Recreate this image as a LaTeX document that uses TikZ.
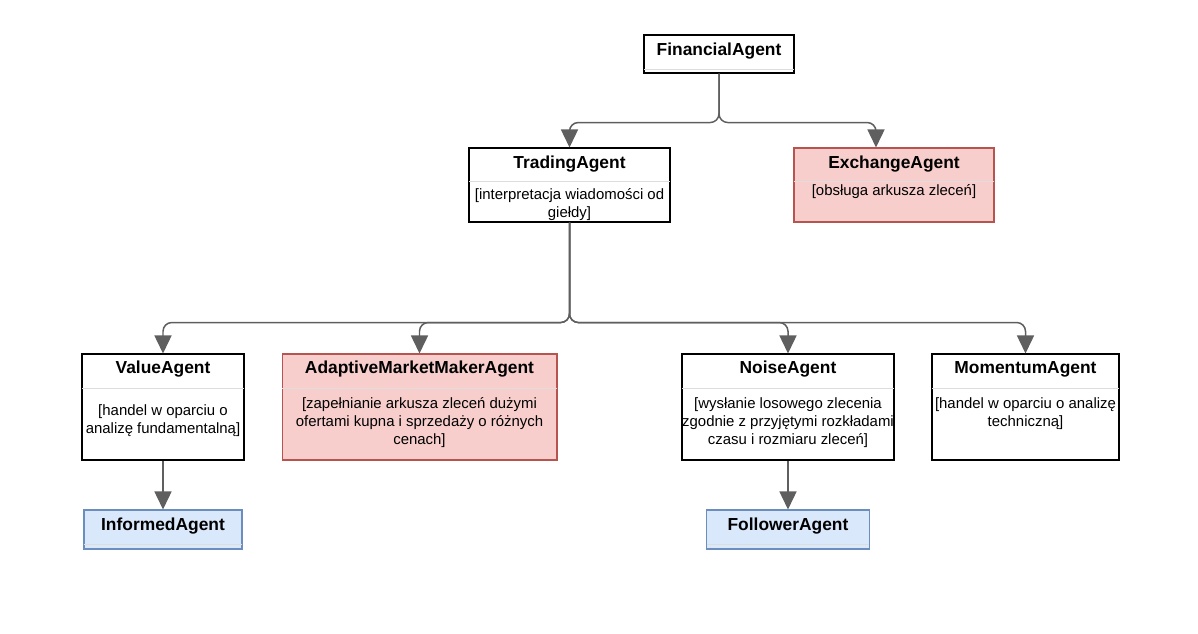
\documentclass[tikz,border=0pt]{standalone}
\usepackage{fontspec}
\setmainfont{Liberation Sans}
\usepackage{xcolor}
\usetikzlibrary{arrows.meta,positioning,calc}

\definecolor{redfill}{HTML}{F8CECC}
\definecolor{redline}{HTML}{B85450}
\definecolor{bluefill}{HTML}{DAE8FC}
\definecolor{blueline}{HTML}{6C8EBF}
\definecolor{edgegray}{HTML}{5F5F5F}
\definecolor{sepgray}{HTML}{DDDDDD}

\begin{document}
\begin{tikzpicture}[
  x=0.02cm, y=-0.02cm,
  box/.style={draw=black, line width=0.6pt, fill=white, inner sep=0pt},
  redbox/.style={box, draw=redline, fill=redfill},
  bluebox/.style={box, draw=blueline, fill=bluefill},
  title/.style={font=\fontsize{9.9}{12}\selectfont\bfseries, anchor=base, inner sep=0pt},
  desc/.style={font=\fontsize{8.5}{10.2}\selectfont, align=center, anchor=base, inner sep=0pt},
  sep/.style={draw=sepgray, line width=0.5pt, shorten <=0.4pt, shorten >=0.4pt},
  arr/.style={-{Triangle[length=0.36cm, width=0.34cm]}, draw=edgegray,
              line width=0.85pt, rounded corners=5pt}
]
  \useasboundingbox (0,0) rectangle (1198,633);

  % top level
  \node[box, minimum width=3cm, minimum height=0.76cm] (fin) at (719,54) {};
  \node[title] (fintitle) at ($(fin.north)+(0,21)$) {FinancialAgent};
  \draw[sep] ($(fin.north west)+(0,35)$) -- ($(fin.north east)+(0,35)$);

  % second level
  \node[box, minimum width=4.02cm, minimum height=1.48cm] (trad) at (569.5,185) {};
  \node[title] (tradtitle) at ($(trad.north)+(0,21)$) {TradingAgent};
  \draw[sep] ($(trad.north west)+(0,34)$) -- ($(trad.north east)+(0,34)$);
  \node[desc] (traddesc) at ($(trad.north)+(0,70)$)
    {[interpretacja wiadomości od\\giełdy]};

  \node[redbox, minimum width=4cm, minimum height=1.48cm] (exch) at (894,185) {};
  \node[title] (exchtitle) at ($(exch.north)+(0,21)$) {ExchangeAgent};
  \draw[sep] ($(exch.north west)+(0,34)$) -- ($(exch.north east)+(0,34)$);
  \node[desc] (exchdesc) at ($(exch.north)+(0,48)$) {[obsługa arkusza zleceń]};

  % third level
  \node[box, minimum width=3.24cm, minimum height=2.12cm] (value) at (163,407) {};
  \node[title] (valuetitle) at ($(value.north)+(0,20)$) {ValueAgent};
  \draw[sep] ($(value.north west)+(0,35)$) -- ($(value.north east)+(0,35)$);
  \node[desc] (valuedesc) at ($(value.north)+(0,80)$)
    {[handel w oparciu o\\analizę fundamentalną]};

  \node[redbox, minimum width=5.5cm, minimum height=2.12cm] (amm) at (419.5,407) {};
  \node[title] (ammtitle) at ($(amm.north)+(0,20)$) {AdaptiveMarketMakerAgent};
  \draw[sep] ($(amm.north west)+(0,35)$) -- ($(amm.north east)+(0,35)$);
  \node[desc] (ammdesc) at ($(amm.north)+(0,91)$)
    {[zapełnianie arkusza zleceń dużymi\\ofertami kupna i sprzedaży o różnych\\cenach]};

  \node[box, minimum width=4.24cm, minimum height=2.12cm] (noise) at (788,407) {};
  \node[title] (noisetitle) at ($(noise.north)+(0,20)$) {NoiseAgent};
  \draw[sep] ($(noise.north west)+(0,35)$) -- ($(noise.north east)+(0,35)$);
  \node[desc] (noisedesc) at ($(noise.north)+(0,91)$)
    {[wysłanie losowego zlecenia\\zgodnie z przyjętymi rozkładami\\czasu i rozmiaru zleceń]};

  \node[box, minimum width=3.74cm, minimum height=2.12cm] (mom) at (1025.5,407) {};
  \node[title] (momtitle) at ($(mom.north)+(0,20)$) {MomentumAgent};
  \draw[sep] ($(mom.north west)+(0,35)$) -- ($(mom.north east)+(0,35)$);
  \node[desc] (momdesc) at ($(mom.north)+(0,73)$)
    {[handel w oparciu o analizę\\techniczną]};

  % fourth level
  \node[bluebox, minimum width=3.16cm, minimum height=0.78cm] (informed) at (163,529.5) {};
  \node[title] (informedtitle) at ($(informed.north)+(0,21)$) {InformedAgent};
  \draw[sep] ($(informed.north west)+(0,35)$) -- ($(informed.north east)+(0,35)$);

  \node[bluebox, minimum width=3.26cm, minimum height=0.78cm] (follower) at (788,529.5) {};
  \node[title] (followertitle) at ($(follower.north)+(0,21)$) {FollowerAgent};
  \draw[sep] ($(follower.north west)+(0,35)$) -- ($(follower.north east)+(0,35)$);

  % connectors
  \draw[arr] (fin.south) -- ++(0,49) -| (trad.north);
  \draw[arr] (fin.south) -- ++(0,49) -| ($(exch.north)+(-18,0)$);
  \draw[arr] (trad.south) -- ++(0,100) -| (value.north);
  \draw[arr] (trad.south) -- ++(0,100) -| (amm.north);
  \draw[arr] (trad.south) -- ++(0,100) -| (noise.north);
  \draw[arr] (trad.south) -- ++(0,100) -| (mom.north);
  \draw[arr] (value.south) -- (informed.north);
  \draw[arr] (noise.south) -- (follower.north);
\end{tikzpicture}
\end{document}
